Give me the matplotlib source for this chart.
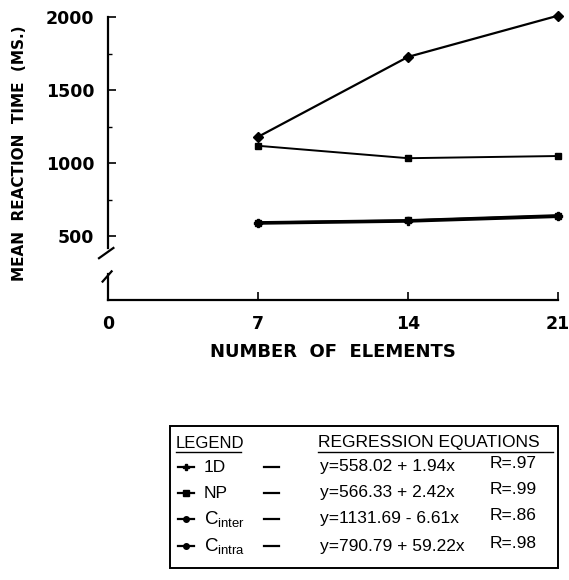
import matplotlib
matplotlib.use('Agg')
import matplotlib.pyplot as plt
from matplotlib.lines import Line2D

plt.rcParams['font.family'] = ['Liberation Sans', 'DejaVu Sans']
plt.rcParams['mathtext.fontset'] = 'custom'
plt.rcParams['mathtext.rm'] = 'Liberation Sans'
plt.rcParams['mathtext.it'] = 'Liberation Sans'

# data
elements = [7, 14, 21]
c_intra = [1180, 1727, 2009]
c_inter = [1119, 1034, 1049]
one_d = [590, 604, 636]
np_vals = [594, 608, 642]

x_ticks = [0, 7, 14, 21]
y_ticks = [500, 1000, 1500, 2000]
y_minor = [750, 1250, 1750]

legend_names = ['1D', 'NP', 'inter', 'intra']
equations = ['y=558.02 + 1.94x', 'y=566.33 + 2.42x',
             'y=1131.69 - 6.61x', 'y=790.79 + 59.22x']
r_values = ['R=.97', 'R=.99', 'R=.86', 'R=.98']

bold = {'family': 'DejaVu Sans', 'weight': 'bold'}

fig = plt.figure(figsize=(5.69, 5.80), dpi=100)
ax = fig.add_axes([108 / 569, 1 - 300 / 580, 450 / 569, 283 / 580])

ax.plot(elements, c_intra, color='black', lw=1.6, marker='D', ms=5, clip_on=False)
ax.plot(elements, c_inter, color='black', lw=1.4, marker='s', ms=5, clip_on=False)
ax.plot(elements, one_d, color='black', lw=2.4, marker='P', ms=6, clip_on=False)
ax.plot(elements, np_vals, color='black', lw=2.0, marker='s', ms=5, clip_on=False)

ax.set_xlim(0, 21)
ax.set_ylim(64, 2000)
ax.set_xticks(x_ticks)
ax.set_xticklabels([str(v) for v in x_ticks], fontsize=12.5, fontdict=bold)
ax.set_yticks(y_ticks)
ax.set_yticklabels([str(v) for v in y_ticks], fontsize=12.5, fontdict=bold)
ax.set_yticks(y_minor, minor=True)
ax.tick_params(axis='y', which='major', direction='in', length=6, width=1.2, pad=10)
ax.tick_params(axis='y', which='minor', direction='in', length=3, width=1.0)
ax.tick_params(axis='x', which='major', direction='in', length=6, width=1.2, pad=11)

for s in ['top', 'right', 'left']:
    ax.spines[s].set_visible(False)
ax.spines['bottom'].set_linewidth(1.6)

# broken left spine
tr = ax.get_yaxis_transform()
ax.add_line(Line2D([0, 0], [420, 2000], transform=tr, color='black', lw=1.6, clip_on=False))
ax.add_line(Line2D([0, 0], [64, 240], transform=tr, color='black', lw=1.6, clip_on=False))
ax.add_line(Line2D([-0.02, 0.012], [350, 420], transform=tr, color='black', lw=1.6, clip_on=False))
ax.add_line(Line2D([-0.012, 0.008], [190, 260], transform=tr, color='black', lw=1.6, clip_on=False))

ax.set_xlabel('NUMBER  OF  ELEMENTS', fontsize=13, fontdict=bold, labelpad=7)
ax.set_ylabel('MEAN  REACTION  TIME  (MS.)', fontsize=11, fontdict=bold)
ax.yaxis.set_label_coords(-0.18, 0.52)

# legend box
lx = fig.add_axes([0, 0, 1, 1])
lx.set_xlim(0, 569)
lx.set_ylim(580, 0)
lx.axis('off')
lx.add_patch(plt.Rectangle((170, 426), 388, 142, fill=False, lw=1.4, edgecolor='black'))
lx.text(176, 443, 'LEGEND', fontsize=12, va='center', ha='left')
lx.plot([176, 241], [452, 452], color='black', lw=1)
lx.text(318, 443, 'REGRESSION EQUATIONS', fontsize=12.5, va='center', ha='left')
lx.plot([318, 553], [452, 452], color='black', lw=1)

rows_y = [467, 493, 519, 546]
mk = ['P', 's', 'o', 'o']
for i, y in enumerate(rows_y):
    lx.plot([178, 194], [y, y], color='black', lw=1.6)
    lx.plot([186], [y], marker=mk[i], color='black', ms=4)
    if i < 2:
        lx.text(204, y, legend_names[i], fontsize=12.5, va='center', ha='left')
    else:
        lx.text(204, y, r'$\mathrm{C}_{\mathrm{' + legend_names[i] + '}}$', fontsize=13.5,
                va='center', ha='left')
    lx.plot([264, 279], [y, y], color='black', lw=1.6)
    lx.text(320, y, equations[i], fontsize=12.5, va='center', ha='left')
    lx.text(490, y - 3, r_values[i], fontsize=12.5, va='center', ha='left')

fig.savefig('out.png', dpi=100)
